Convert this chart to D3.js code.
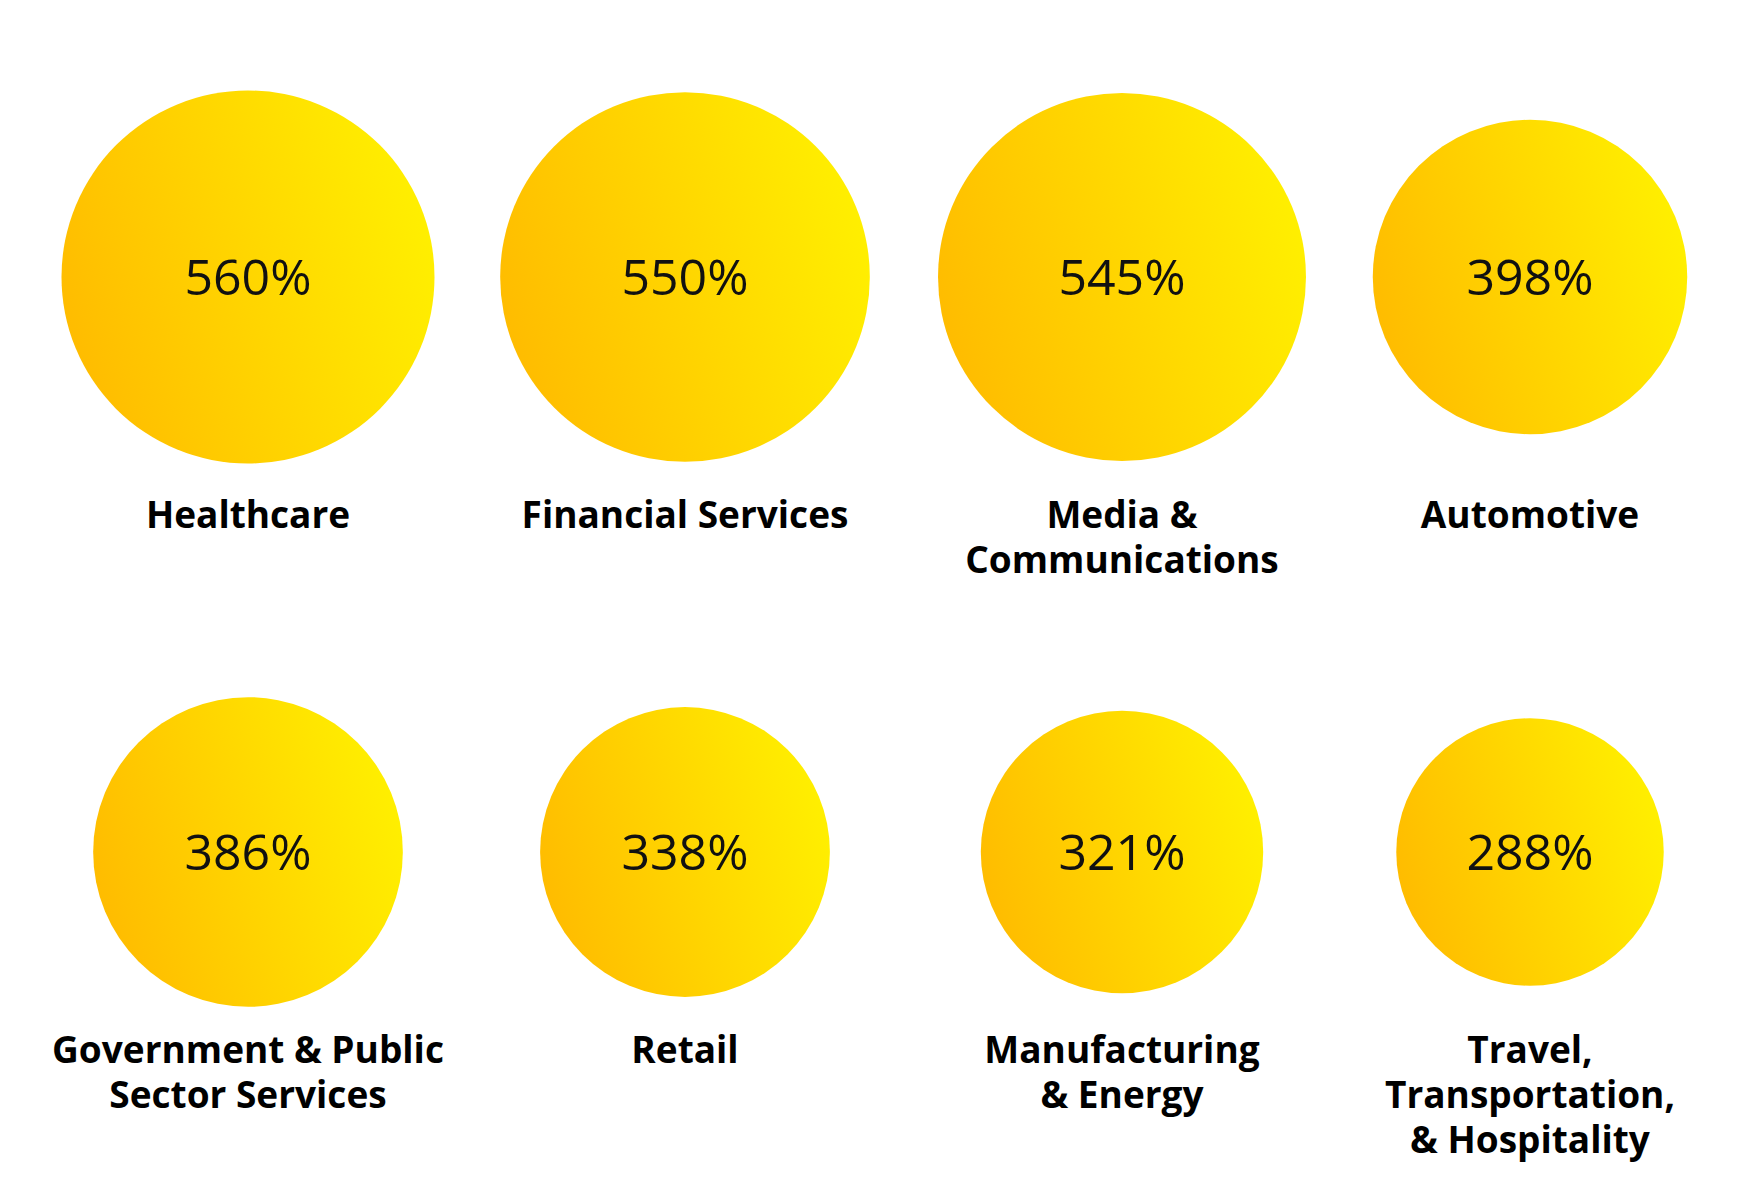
<!DOCTYPE html>
<html>
<head>
<meta charset="utf-8">
<script src="https://cdn.jsdelivr.net/npm/d3@7"></script>
<style>
  html, body { margin: 0; padding: 0; background: #ffffff; }
  svg { display: block; }
</style>
</head>
<body>
<svg id="chart" width="1751" height="1192"></svg>
<script>
// ---- data ----
const categories = [
  ["Healthcare"],
  ["Financial Services"],
  ["Media &", "Communications"],
  ["Automotive"],
  ["Government & Public", "Sector Services"],
  ["Retail"],
  ["Manufacturing", "& Energy"],
  ["Travel,", "Transportation,", "& Hospitality"]
];
const values = [560, 550, 545, 398, 386, 338, 321, 288];
const valueLabels = ["560%", "550%", "545%", "398%", "386%", "338%", "321%", "288%"];

// ---- layout ----
const svg = d3.select("#chart");

const colX = d3.scaleOrdinal().domain([0, 1, 2, 3]).range([248, 685, 1122, 1530]);
const rowY = d3.scaleOrdinal().domain([0, 1]).range([277, 852]);
const labelY = d3.scaleOrdinal().domain([0, 1]).range([528, 1063]);
const r = d3.scaleSqrt().domain([0, 560]).range([0, 186.5]);

const defs = svg.append("defs");
const grad = defs.append("linearGradient")
  .attr("id", "sun")
  .attr("x1", "0").attr("y1", "0.65")
  .attr("x2", "1").attr("y2", "0.35");
grad.append("stop").attr("offset", "0").attr("stop-color", "#FFBB00");
grad.append("stop").attr("offset", "1").attr("stop-color", "#FFF000");

const data = values.map((v, i) => ({
  v, label: valueLabels[i], name: categories[i], col: i % 4, row: Math.floor(i / 4)
}));

const g = svg.selectAll("g.item").data(data).join("g").attr("class", "item");

g.append("circle")
  .attr("cx", d => colX(d.col))
  .attr("cy", d => rowY(d.row))
  .attr("r", d => r(d.v))
  .attr("fill", "url(#sun)");

g.append("text")
  .attr("x", d => colX(d.col))
  .attr("y", d => rowY(d.row) + 18)
  .attr("text-anchor", "middle")
  .attr("font-family", "'Segoe UI', 'Open Sans', 'Noto Sans', sans-serif")
  .attr("font-size", 50)
  .attr("fill", "#111")
  .text(d => d.label);

const lbl = g.append("text")
  .attr("text-anchor", "middle")
  .attr("font-family", "'Segoe UI', 'Open Sans', 'Noto Sans', sans-serif")
  .attr("font-weight", "bold")
  .attr("font-size", 37)
  .attr("fill", "#000");

lbl.selectAll("tspan").data(d => d.name.map((t, j) => ({ t, j, d }))).join("tspan")
  .attr("x", e => colX(e.d.col))
  .attr("y", e => labelY(e.d.row) + e.j * 45)
  .text(e => e.t);
</script>
</body>
</html>
